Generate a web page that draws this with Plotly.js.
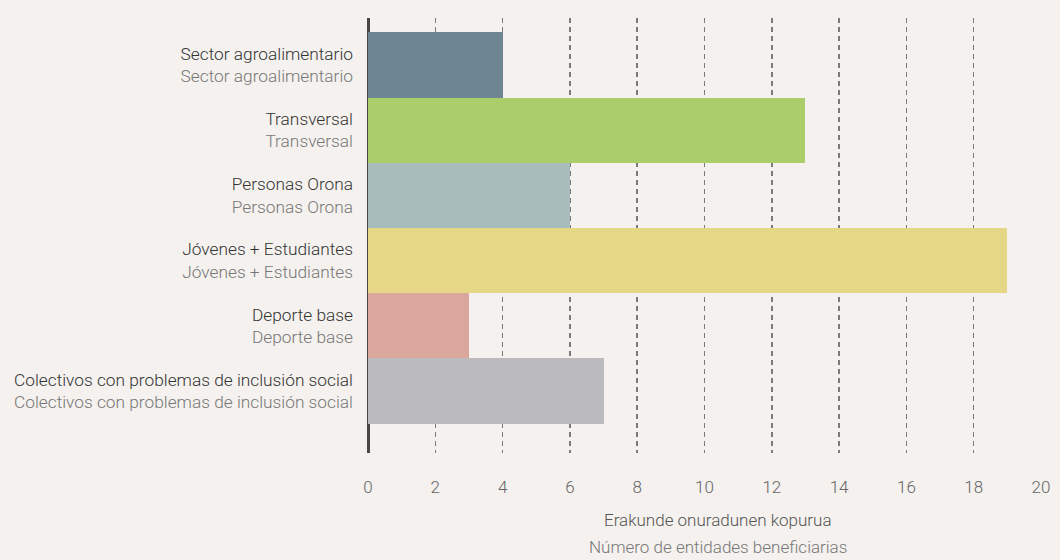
<!DOCTYPE html>
<html><head><meta charset="utf-8">
<script src="https://cdn.plot.ly/plotly-3.0.1.min.js"></script>
<style>html,body{margin:0;padding:0;background:#f4f1ee;}</style>
</head><body>
<div id="chart" style="width:1060px;height:560px;"></div>
<script>
const categoriesEu = ["Sector agroalimentario","Transversal","Personas Orona","Jóvenes + Estudiantes","Deporte base","Colectivos con problemas de inclusión social"];
const categoriesEs = ["Sector agroalimentario","Transversal","Personas Orona","Jóvenes + Estudiantes","Deporte base","Colectivos con problemas de inclusión social"];
const values = [4, 13, 6, 19, 3, 7];
const barColors = ["#6e8593","#abce6a","#a9bcbc","#e5d785","#dba69b","#bbbbbd"];
const xTickVals = [0,2,4,6,8,10,12,14,16,18,20];
const titleEu = "Erakunde onuradunen kopurua";
const titleEs = "Número de entidades beneficiarias";

const ticktext = categoriesEu.map((c,i)=> c + "<br><span style='color:#777'>" + categoriesEs[i] + "</span>");
const yIdx = categoriesEu.map((c,i)=>i);

const trace = {
  type:'bar', orientation:'h',
  x: values, y: yIdx,
  marker:{color:barColors, line:{width:0}},
  width: 1,
  hoverinfo:'skip'
};
const layout = {
  width:1060, height:560,
  paper_bgcolor:'#f4f1ee', plot_bgcolor:'#f4f1ee',
  margin:{l:368, r:19, t:18, b:107},
  font:{family:'Roboto', color:'#333'},
  showlegend:false,
  bargap:0,
  xaxis:{
    range:[0,20], tickvals:xTickVals, ticktext:xTickVals.map(String),
    showgrid:true, gridcolor:'#7a7a7a', gridwidth:1.5, griddash:'5px,4px',
    zeroline:true, zerolinecolor:'#474747', zerolinewidth:3,
    showline:false, ticks:'', ticklen:0,
    ticklabelstandoff:22,
    tickfont:{family:'Roboto', size:17, color:'#666', weight:300},
    fixedrange:true
  },
  yaxis:{
    range:[5.95,-0.72], tickvals:yIdx, ticktext:ticktext,
    showgrid:false, zeroline:false, showline:false, ticks:'',
    ticklabelstandoff:14,
    tickfont:{family:'Roboto', size:17.3, color:'#333', weight:300},
    fixedrange:true
  },
  annotations:[
    {xref:'paper', yref:'paper', x:0.52, y:-0.155, text:titleEu, showarrow:false,
     font:{family:'Roboto', size:17, color:'#555', weight:300}, xanchor:'center', yanchor:'middle'},
    {xref:'paper', yref:'paper', x:0.52, y:-0.215, text:titleEs, showarrow:false,
     font:{family:'Roboto', size:17, color:'#777', weight:300}, xanchor:'center', yanchor:'middle'}
  ]
};
Plotly.newPlot('chart',[trace],layout,{displayModeBar:false, staticPlot:true});
</script>
</body></html>
